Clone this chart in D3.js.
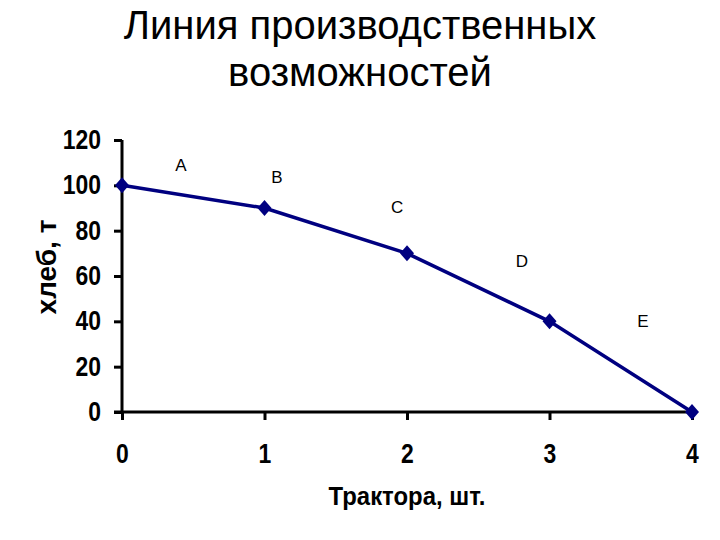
<!DOCTYPE html>
<html><head><meta charset="utf-8">
<script src="https://cdn.jsdelivr.net/npm/d3@7"></script>
<style>body{margin:0;background:#fff}</style>
</head><body>
<svg id="c" width="720" height="540"></svg>
<script>
const tractors = [0, 1, 2, 3, 4];
const bread = [100, 90, 70, 40, 0];
const segLabels = ["A", "B", "C", "D", "E"];
const segLabelX = [0.414, 1.088, 1.93, 2.807, 3.656];
const segLabelY = [106.3, 101.0, 87.8, 64.0, 37.5];
const yTicks = [0, 20, 40, 60, 80, 100, 120];
const xTicks = [0, 1, 2, 3, 4];
const titleLines = ["Линия производственных", "возможностей"];

const svg = d3.select("#c");
const x = d3.scaleLinear().domain([0, 4]).range([122, 692]);
const y = d3.scaleLinear().domain([0, 120]).range([412, 140]);
const font = "Liberation Sans, Arial, sans-serif";
const sx = 0.85;

svg.append("g").selectAll("text").data(titleLines).join("text")
  .attr("x", 360).attr("y", (d, i) => 39 + i * 47)
  .attr("text-anchor", "middle").attr("font-family", font).attr("font-size", 40)
  .text(d => d);

const ya = svg.append("g").attr("transform", "translate(122,0)")
  .call(d3.axisLeft(y).tickValues(yTicks).tickSize(8).tickPadding(13).tickSizeOuter(0));
ya.select(".domain").attr("stroke-width", 3).attr("d", `M0,${y(120)}V${y(0)}`);
ya.selectAll(".tick line").attr("stroke-width", 3);
ya.selectAll("text").attr("font-family", font).attr("font-weight", "bold").attr("font-size", 27)
  .attr("fill", "#000").attr("x", -21 / sx).attr("transform", `scale(${sx},1)`);

const xa = svg.append("g").attr("transform", "translate(0,412)")
  .call(d3.axisBottom(x).tickValues(xTicks).tickFormat(d3.format("d")).tickSize(8).tickPadding(24).tickSizeOuter(0));
xa.select(".domain").attr("stroke-width", 3).attr("d", `M${x(0) - 8},0H${x(4)}`);
xa.selectAll(".tick line").attr("stroke-width", 3);
xa.selectAll("text").attr("font-family", font).attr("font-weight", "bold").attr("font-size", 27)
  .attr("fill", "#000").attr("transform", `scale(${sx},1)`);

svg.append("text").attr("transform", "translate(407,505) scale(0.92,1)").attr("text-anchor", "middle")
  .attr("font-family", font).attr("font-weight", "bold").attr("font-size", 26).text("Трактора, шт.");
svg.append("text").attr("transform", "translate(56,267) rotate(-90)").attr("text-anchor", "middle")
  .attr("font-family", font).attr("font-weight", "bold").attr("font-size", 28).text("хлеб, т");

const line = d3.line().x((d, i) => x(tractors[i])).y(d => y(d));
svg.append("path").datum(bread).attr("d", line).attr("fill", "none")
  .attr("stroke", "#000080").attr("stroke-width", 3.5);
svg.append("g").selectAll("path").data(bread).join("path")
  .attr("transform", (d, i) => `translate(${x(tractors[i])},${y(d)})`)
  .attr("d", "M0,-8L7,0L0,8L-7,0Z").attr("fill", "#000080");

svg.append("g").selectAll("text").data(segLabels).join("text")
  .attr("x", (d, i) => x(segLabelX[i])).attr("y", (d, i) => y(segLabelY[i]))
  .attr("text-anchor", "middle").attr("font-family", font).attr("font-size", 17)
  .text(d => d);
</script>
</body></html>
